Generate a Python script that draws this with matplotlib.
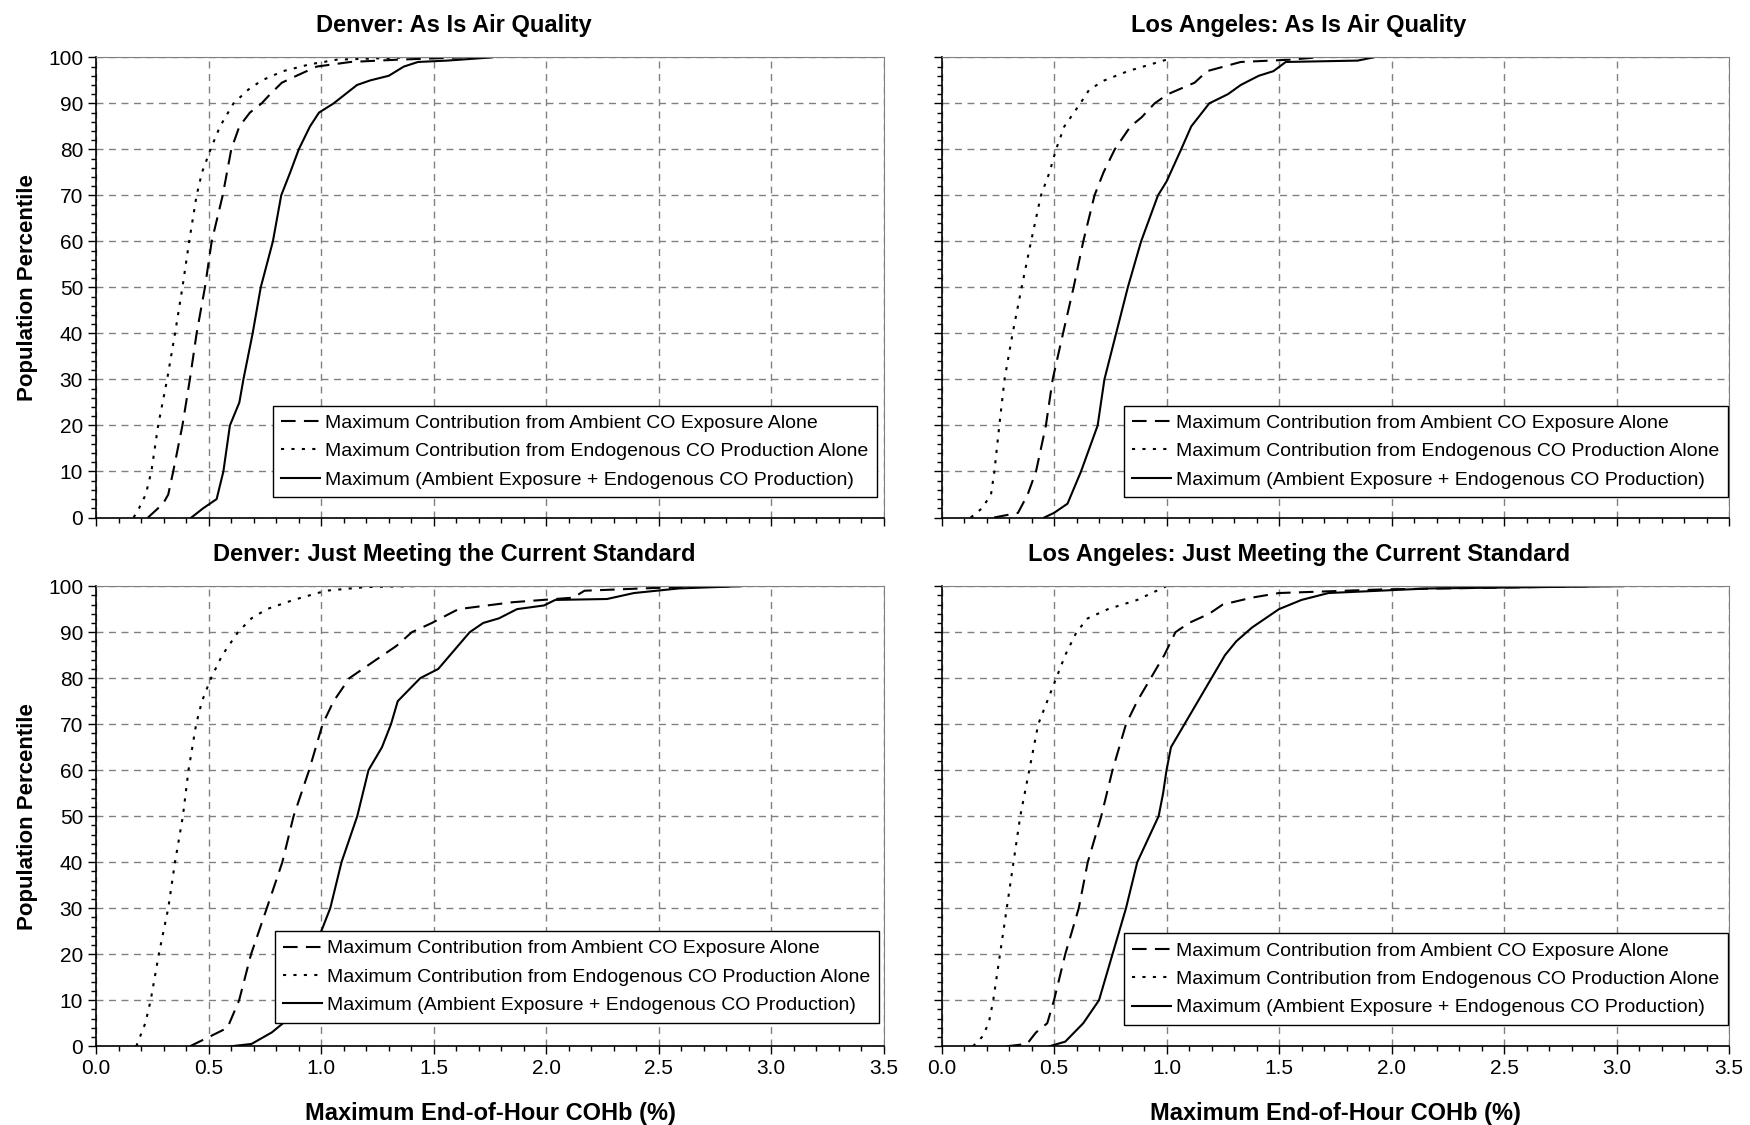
import matplotlib
matplotlib.use('Agg')
import matplotlib.pyplot as plt
from matplotlib.ticker import MultipleLocator

plt.rcParams['font.family'] = ['Liberation Sans', 'DejaVu Sans']

# percentiles and COHb values, one curve per list
# Denver, as is
den_asis_endo_p = [0, 2, 5, 10, 20, 30, 40, 50, 60, 70, 75, 80, 85, 90, 93, 95, 97, 98.5, 99.5, 100]
den_asis_endo_x = [0.166, 0.19, 0.22, 0.245, 0.275, 0.315, 0.35, 0.383, 0.413, 0.446, 0.47, 0.508, 0.55, 0.61, 0.676, 0.736, 0.83, 0.95, 1.07, 1.38]
den_asis_amb_p = [0, 3, 5, 10, 20, 30, 40, 50, 60, 70, 80, 85, 88, 90, 92, 94.5, 96, 98, 99, 99.5, 100]
den_asis_amb_x = [0.23, 0.297, 0.32, 0.342, 0.383, 0.416, 0.446, 0.483, 0.513, 0.562, 0.60, 0.636, 0.683, 0.735, 0.773, 0.825, 0.89, 0.98, 1.13, 1.34, 1.63]
den_asis_tot_p = [0, 2, 4, 10, 20, 25, 30, 40, 50, 60, 70, 75, 80, 85, 88, 90, 92, 94, 95, 96, 98, 99, 99.3, 100]
den_asis_tot_x = [0.423, 0.475, 0.535, 0.565, 0.594, 0.636, 0.654, 0.695, 0.731, 0.785, 0.822, 0.862, 0.90, 0.95, 0.99, 1.055, 1.107, 1.159, 1.218, 1.30, 1.367, 1.43, 1.56, 1.76]

# Los Angeles, as is
la_asis_endo_p = [0, 2, 5, 10, 20, 30, 40, 50, 60, 70, 75, 80, 85, 90, 93, 95, 97, 99.5]
la_asis_endo_x = [0.13, 0.18, 0.22, 0.235, 0.257, 0.28, 0.316, 0.356, 0.398, 0.442, 0.48, 0.509, 0.546, 0.617, 0.657, 0.724, 0.828, 1.00]
la_asis_amb_p = [0, 1, 5, 10, 20, 30, 40, 50, 60, 70, 75, 80, 85, 87, 90, 92, 94.5, 97, 99, 99.5, 100]
la_asis_amb_x = [0.234, 0.34, 0.383, 0.42, 0.464, 0.494, 0.54, 0.587, 0.63, 0.68, 0.72, 0.77, 0.84, 0.89, 0.947, 1.006, 1.125, 1.18, 1.33, 1.55, 1.67]
la_asis_tot_p = [0, 1, 3, 10, 20, 30, 40, 50, 60, 70, 73, 80, 85, 90, 92, 94, 96, 97, 99, 99.3, 100]
la_asis_tot_x = [0.457, 0.50, 0.56, 0.62, 0.694, 0.724, 0.776, 0.828, 0.887, 0.962, 1.00, 1.065, 1.11, 1.19, 1.273, 1.33, 1.41, 1.475, 1.53, 1.85, 1.92]

# Denver, just meeting the standard
den_std_endo_p = [0, 5, 10, 20, 30, 40, 50, 60, 70, 75, 80, 85, 90, 93, 95, 97, 99, 99.8, 100]
den_std_endo_x = [0.178, 0.218, 0.242, 0.278, 0.32, 0.35, 0.385, 0.41, 0.444, 0.47, 0.51, 0.56, 0.63, 0.69, 0.758, 0.877, 1.02, 1.20, 1.41]
den_std_amb_p = [0, 2, 4, 10, 20, 30, 40, 50, 60, 70, 75, 80, 84, 87, 90, 92, 94, 95, 96.5, 97.5, 99, 99.6, 100]
den_std_amb_x = [0.417, 0.50, 0.583, 0.635, 0.688, 0.758, 0.827, 0.877, 0.946, 1.006, 1.055, 1.125, 1.244, 1.334, 1.403, 1.492, 1.57, 1.61, 1.85, 2.12, 2.17, 2.48, 2.86]
den_std_tot_p = [0, 0.5, 3, 5, 8, 10, 15, 20, 25, 30, 40, 50, 60, 65, 70, 75, 80, 82, 86, 90, 92, 93, 95, 95.8, 97, 97.2, 98.5, 99.5, 100]
den_std_tot_x = [0.60, 0.69, 0.78, 0.83, 0.857, 0.90, 0.93, 0.97, 1.00, 1.04, 1.09, 1.16, 1.21, 1.27, 1.31, 1.34, 1.44, 1.52, 1.59, 1.66, 1.72, 1.79, 1.87, 1.99, 2.04, 2.27, 2.39, 2.59, 2.87]

# Los Angeles, just meeting the standard
la_std_endo_p = [0, 2, 5, 10, 20, 30, 40, 50, 60, 70, 75, 80, 85, 90, 93, 95, 97, 100]
la_std_endo_x = [0.14, 0.18, 0.21, 0.23, 0.26, 0.29, 0.32, 0.35, 0.39, 0.43, 0.47, 0.51, 0.55, 0.60, 0.65, 0.74, 0.87, 1.00]
la_std_amb_p = [0, 0.5, 3, 5, 10, 20, 30, 40, 50, 60, 70, 75, 80, 85, 90, 92, 94, 96, 97.5, 98.5, 99.3, 100]
la_std_amb_x = [0.29, 0.38, 0.42, 0.47, 0.50, 0.55, 0.61, 0.65, 0.71, 0.76, 0.82, 0.87, 0.93, 0.99, 1.04, 1.10, 1.19, 1.25, 1.38, 1.50, 1.97, 2.90]
la_std_tot_p = [0, 1, 3, 5, 10, 20, 30, 40, 50, 55, 60, 65, 70, 75, 80, 85, 88, 91, 93, 95, 97, 98.5, 99.5, 100]
la_std_tot_x = [0.48, 0.55, 0.59, 0.63, 0.70, 0.76, 0.82, 0.87, 0.965, 0.985, 1.00, 1.02, 1.08, 1.14, 1.20, 1.26, 1.31, 1.38, 1.44, 1.50, 1.60, 1.72, 2.17, 3.03]

titles = ['Denver: As Is Air Quality', 'Los Angeles: As Is Air Quality',
          'Denver: Just Meeting the Current Standard', 'Los Angeles: Just Meeting the Current Standard']
labels = ['Maximum Contribution from Ambient CO Exposure Alone',
          'Maximum Contribution from Endogenous CO Production Alone',
          'Maximum (Ambient Exposure + Endogenous CO Production)']

panels = [
    (den_asis_amb_x, den_asis_amb_p, den_asis_endo_x, den_asis_endo_p, den_asis_tot_x, den_asis_tot_p),
    (la_asis_amb_x, la_asis_amb_p, la_asis_endo_x, la_asis_endo_p, la_asis_tot_x, la_asis_tot_p),
    (den_std_amb_x, den_std_amb_p, den_std_endo_x, den_std_endo_p, den_std_tot_x, den_std_tot_p),
    (la_std_amb_x, la_std_amb_p, la_std_endo_x, la_std_endo_p, la_std_tot_x, la_std_tot_p),
]

# axes boxes in figure fractions
boxes = [
    [0.055, 0.540, 0.450, 0.409],
    [0.538, 0.540, 0.450, 0.409],
    [0.055, 0.070, 0.450, 0.409],
    [0.538, 0.070, 0.450, 0.409],
]
# legend anchor (lower right corner, axes fraction)
legend_anchor = [(0.9915, 0.044), (0.999, 0.044), (0.994, 0.051), (0.999, 0.046)]


def main():
    fig = plt.figure(figsize=(17.5, 11.25), dpi=100)

    for i in range(4):
        ax = fig.add_axes(boxes[i])
        amb_x, amb_p, endo_x, endo_p, tot_x, tot_p = panels[i]
        ax.plot(amb_x, amb_p, color='black', lw=1.5, ls=(0, (7, 4)), label=labels[0])
        ax.plot(endo_x, endo_p, color='black', lw=1.5, ls=(0, (1.5, 3.5)), label=labels[1])
        ax.plot(tot_x, tot_p, color='black', lw=1.5, ls='-', label=labels[2])

        ax.set_xlim(0, 3.5)
        ax.set_ylim(0, 100)
        ax.xaxis.set_major_locator(MultipleLocator(0.5))
        ax.xaxis.set_minor_locator(MultipleLocator(0.1))
        ax.yaxis.set_major_locator(MultipleLocator(10))
        ax.yaxis.set_minor_locator(MultipleLocator(2))
        ax.grid(True, which='major', color='#808080', ls=(0, (5, 4)), lw=1)
        ax.set_axisbelow(True)

        ax.tick_params(which='major', direction='out', length=6, width=1, labelsize=15)
        ax.tick_params(which='minor', direction='out', length=3.5, width=1)
        ax.tick_params(top=False, right=False, which='both')

        for s in ['top', 'right']:
            ax.spines[s].set_color('#808080')
        for s in ['left', 'bottom']:
            ax.spines[s].set_color('black')
            ax.spines[s].set_linewidth(1.2)

        if i < 2:
            ax.set_xticklabels([])
        else:
            ax.set_xticklabels(['%.1f' % v for v in ax.get_xticks()])
            ax.set_xlabel('Maximum End-of-Hour COHb (%)', fontsize=17, fontweight='bold', labelpad=17)
        if i % 2 == 1:
            ax.set_yticklabels([])
        else:
            ax.set_ylabel('Population Percentile', fontsize=16, fontweight='bold', labelpad=7)

        ax.set_title(titles[i], fontsize=17, fontweight='bold', x=0.454, pad=18)

        leg = ax.legend(loc='lower right', bbox_to_anchor=legend_anchor[i], borderaxespad=0,
                        fontsize=14, frameon=True, fancybox=False,
                        edgecolor='black', framealpha=1, handlelength=2.0,
                        labelspacing=0.55, handletextpad=0.25, borderpad=0.45)
        leg.get_frame().set_linewidth(1)

    fig.savefig('out.png', dpi=100)


if __name__ == '__main__':
    main()
